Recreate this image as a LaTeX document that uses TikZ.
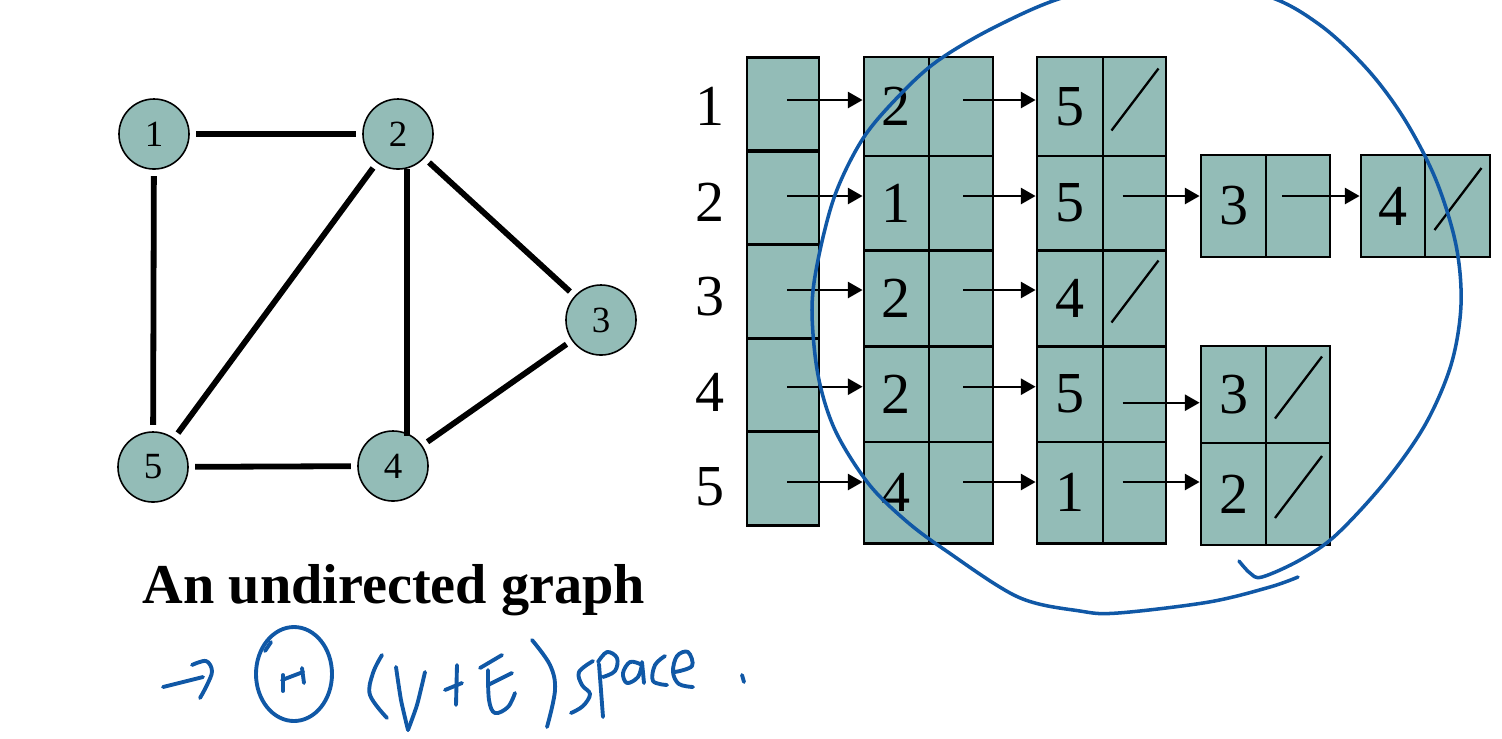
\documentclass[tikz,border=0pt]{standalone}
\usepackage{fontspec}
\setmainfont{Liberation Serif}
\usetikzlibrary{calc,arrows.meta}
\definecolor{cellfill}{RGB}{147,188,183}
\definecolor{ink}{RGB}{16,88,166}
\begin{document}
\begin{tikzpicture}[x=0.01cm,y=-0.01cm,
  vtx/.style={circle,draw=black,line width=0.45pt,fill=cellfill,minimum size=0.7cm,inner sep=0pt,font=\fontsize{10.5}{12}\selectfont},
  edge/.style={line width=1.65pt,shorten <=1.8pt,shorten >=1.8pt},
  cell/.style={rectangle,draw=black,line width=0.8pt,fill=cellfill,inner sep=0pt,font=\fontsize{16.5}{18}\selectfont},
  idx/.style={font=\fontsize{16.5}{18}\selectfont,inner sep=0pt},
  ptr/.style={line width=0.65pt,-{Triangle[length=4.2pt,width=4.6pt]}},
  nul/.style={line width=0.65pt},
  pen/.style={draw=ink,line width=1.1pt,line cap=round,line join=round},
  wa/.style={minimum width=0.65cm},
  wb/.style={minimum width=0.64cm},
  wc/.style={minimum width=0.66cm},
  wd/.style={minimum width=0.63cm},
  hrow1/.style={minimum height=0.99cm},
  hrow2/.style={minimum height=0.945cm},
  hrow3/.style={minimum height=0.96cm},
  hrow4/.style={minimum height=0.955cm},
  hrow5/.style={minimum height=1.015cm},
  hhead/.style={minimum width=0.72cm,minimum height=0.935cm},
  htall/.style={minimum height=1.02cm},
  hmid/.style={minimum height=0.97cm}
]
\useasboundingbox (0,0) rectangle (1502,738);

% ---------- graph ----------
\node[vtx] (n1) at (154,134) {1};
\node[vtx] (n2) at (398,134) {2};
\node[vtx] (n3) at (601,320) {3};
\node[vtx] (n4) at (393,466) {4};
\node[vtx] (n5) at (153,467) {5};
\draw[edge] (n1) -- (n2);
\draw[edge] (n1) -- (n5);
\draw[edge] (n2) -- (n5);
\draw[edge] (n2) -- (n3);
\draw[edge] (n3) -- (n4);
\draw[edge] (n5) -- (n4);
\draw[line width=1.65pt,shorten >=8.6pt] (n2.-75) -- (n2.-75 |- n4.center);

\node[font=\fontsize{16}{18}\selectfont\bfseries,anchor=base,inner sep=0pt] (cap) at (394,603) {An undirected graph};

% ---------- index labels ----------
\node[idx] (l1) at (710,106) {1};
\node[idx] (l2) at (710,202) {2};
\node[idx] (l3) at (710,297) {3};
\node[idx] (l4) at (710,392) {4};
\node[idx] (l5) at (710,487) {5};

% ---------- header column ----------
\node[cell,hhead] (h1) at (783,104) {};
\node[cell,hhead] (h2) at (783,198) {};
\node[cell,hhead] (h3) at (783,291.5) {};
\node[cell,hhead] (h4) at (783,385) {};
\node[cell,hhead] (h5) at (783,478.5) {};

% ---------- column 2 ----------
\node[cell,wa,hrow1] (a21) at (896.5,106.5) {2};
\node[cell,wb,hrow1] (b21) at (961,106.5) {};
\node[cell,wa,hrow2] (a22) at (896.5,203.25) {1};
\node[cell,wb,hrow2] (b22) at (961,203.25) {};
\node[cell,wa,hrow3] (a23) at (896.5,298.5) {2};
\node[cell,wb,hrow3] (b23) at (961,298.5) {};
\node[cell,wa,hrow4] (a24) at (896.5,394.25) {2};
\node[cell,wb,hrow4] (b24) at (961,394.25) {};
\node[cell,wa,hrow5] (a25) at (896.5,492.75) {4};
\node[cell,wb,hrow5] (b25) at (961,492.75) {};

% ---------- column 3 ----------
\node[cell,wc,hrow1] (a31) at (1070,106.5) {5};
\node[cell,wd,hrow1] (b31) at (1134.5,106.5) {};
\node[cell,wc,hrow2] (a32) at (1070,203.25) {5};
\node[cell,wd,hrow2] (b32) at (1134.5,203.25) {};
\node[cell,wc,hrow3] (a33) at (1070,298.5) {4};
\node[cell,wd,hrow3] (b33) at (1134.5,298.5) {};
\node[cell,wc,hrow4] (a34) at (1070,394.25) {5};
\node[cell,wd,hrow4] (b34) at (1134.5,394.25) {};
\node[cell,wc,hrow5] (a35) at (1070,492.75) {1};
\node[cell,wd,hrow5] (b35) at (1134.5,492.75) {};

% ---------- column 4 / 5 ----------
\node[cell,wa,htall] (a42) at (1233.5,206) {3};
\node[cell,wb,htall] (b42) at (1298,206) {};
\node[cell,wb,htall] (a52) at (1393,206) {4};
\node[cell,wa,htall] (b52) at (1457.5,206) {};
\node[cell,wa,hmid] (a44) at (1233.5,394.5) {3};
\node[cell,wb,hmid] (b44) at (1298,394.5) {};
\node[cell,wa,htall] (a45) at (1233.5,494) {2};
\node[cell,wb,htall] (b45) at (1298,494) {};

% ---------- arrow rows ----------
\coordinate (r1) at (0,100);
\coordinate (r2) at (0,196);
\coordinate (r3) at (0,290);
\coordinate (r4) at (0,386.7);
\coordinate (r4b) at (0,402.7);
\coordinate (r5) at (0,482);

\draw[ptr] (h1.center |- r1) ++(4,0) -- (a21.west |- r1);
\draw[ptr] (h2.center |- r2) ++(4,0) -- (a22.west |- r2);
\draw[ptr] (h3.center |- r3) ++(4,0) -- (a23.west |- r3);
\draw[ptr] (h4.center |- r4) ++(4,0) -- (a24.west |- r4);
\draw[ptr] (h5.center |- r5) ++(4,0) -- (a25.west |- r5);

\draw[ptr] (b21.center |- r1) ++(2,0) -- (a31.west |- r1);
\draw[ptr] (b22.center |- r2) ++(2,0) -- (a32.west |- r2);
\draw[ptr] (b23.center |- r3) ++(2,0) -- (a33.west |- r3);
\draw[ptr] (b24.center |- r4) ++(2,0) -- (a34.west |- r4);
\draw[ptr] (b25.center |- r5) ++(2,0) -- (a35.west |- r5);

\draw[ptr] (b32.center |- r2) ++(-12,0) -- (a42.west |- r2);
\draw[ptr] (b42.center |- r2) ++(-16,0) -- (a52.west |- r2);
\draw[ptr] (b34.center |- r4b) ++(-12,0) -- (a44.west |- r4b);
\draw[ptr] (b35.center |- r5) ++(-12,0) -- (a45.west |- r5);

% ---------- null slashes ----------
\foreach \c in {b31,b33,b52,b44,b45}{
  \draw[nul] ($(\c.center)+(-23,24)$) -- ($(\c.center)+(24,-38)$);
}

% ---------- handwritten loop ----------
\begin{scope}
\clip (0,0) rectangle (1502,738);
\draw[pen,line width=1pt] plot[smooth,tension=0.55] coordinates {
 (1239,561) (1250,573) (1262,577) (1300,560) (1336,535) (1385,482) (1425,425)
 (1451,365) (1461,305) (1456,245) (1436,180) (1405,120) (1368,70) (1320,25) (1264,-5) (1166,-22)
 (1068,-4) (995,27) (936,62) (895,100) (862,140) (835,195) (818,260) (812,310) (818,375)
 (835,430) (868,483) (905,520) (945,550) (1018,597) (1080,611) (1118,613) (1209,602) (1270,587) (1298,577)};
\end{scope}

% ---------- handwritten note ----------
\draw[pen] (163,687) -- (203,677);
\draw[pen] plot[smooth,tension=0.6] coordinates {(192,665) (206,661) (212,671) (207,685) (200,698)};
\draw[pen] (294,674) ellipse [x radius=38, y radius=47];
\draw[pen] (265,651) -- (271,642);
\draw[pen] (283,675) -- (283,691);
\draw[pen] (282,680) -- (303,672);
\draw[pen] (302,668) -- (304,683);
\draw[pen] plot[smooth,tension=0.6] coordinates {(382,655) (373,673) (370,695) (387,718)};
\draw[pen] plot[smooth,tension=0.4] coordinates {(396,667) (401,700) (408,730)};
\draw[pen] plot[smooth,tension=0.4] coordinates {(408,730) (417,705) (425,672)};
\draw[pen] (457,665) -- (456,705);
\draw[pen] (445,690) -- (462,683);
\draw[pen] (480,668) -- (502,655);
\draw[pen] plot[smooth,tension=0.6] coordinates {(488,670) (489,700) (495,713) (508,707) (515,693)};
\draw[pen] (488,685) -- (512,673);
\draw[pen] plot[smooth,tension=0.6] coordinates {(532,640) (550,665) (555,690) (547,727)};
\draw[pen] plot[smooth,tension=0.6] coordinates {(593,661) (579,672) (582,685) (590,694) (583,706) (571,713)};
\draw[pen] (599,664) -- (603,717);
\draw[pen] plot[smooth,tension=0.6] coordinates {(598,662) (607,652) (617,658) (615,671) (603,677)};
\draw[pen] plot[smooth,tension=0.6] coordinates {(640,664) (630,662) (623,673) (627,683) (638,677) (642,664)};
\draw[pen] (642,662) -- (644,683);
\draw[pen] plot[smooth,tension=0.6] coordinates {(665,656) (655,665) (653,681) (667,685)};
\draw[pen] plot[smooth,tension=0.6] coordinates {(675,672) (692,666) (688,652) (677,656) (673,672) (679,684) (693,687)};
\draw[pen] (742,675) -- (744,682);
\end{tikzpicture}
\end{document}
